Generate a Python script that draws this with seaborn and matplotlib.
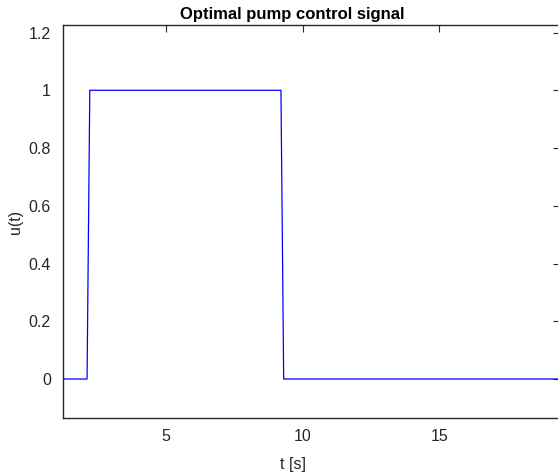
import matplotlib
matplotlib.use("Agg")
import matplotlib.pyplot as plt
import seaborn as sns
import pandas as pd

# Data
t_values = [1.23, 2.1, 2.2, 9.2, 9.3, 19.4]
u_values = [0.0, 0.0, 1.0, 1.0, 0.0, 0.0]
x_ticks = [5, 10, 15]
y_ticks = [0, 0.2, 0.4, 0.6, 0.8, 1.0, 1.2]
y_tick_labels = ["0", "0.2", "0.4", "0.6", "0.8", "1", "1.2"]

sns.set_theme(style="white")
plt.rcParams['font.family'] = ['Liberation Sans', 'DejaVu Sans']

df = pd.DataFrame({"t": t_values, "u": u_values})

fig = plt.figure(figsize=(5.58, 4.72), dpi=100)
ax = fig.add_axes([63.3 / 558, 1 - 418 / 472, (559.5 - 63.3) / 558, (418 - 25) / 472])

sns.lineplot(data=df, x="t", y="u", estimator=None, sort=False,
             color=(0, 0, 1), linewidth=0.9, ax=ax)

ax.set_xlim(1.23, 19.4)
ax.set_ylim(-0.135, 1.226)
ax.set_xticks(x_ticks)
ax.set_xticklabels([str(v) for v in x_ticks])
ax.set_yticks(y_ticks)
ax.set_yticklabels(y_tick_labels)

for s in ax.spines.values():
    s.set_color("#262626")
    s.set_linewidth(1.0)
    s.set_visible(True)

ax.tick_params(axis="both", which="both", direction="in", length=5, width=0.8,
               colors="#262626", labelsize=11.5, top=True, right=True,
               labeltop=False, labelright=False)
ax.tick_params(axis="y", pad=9)
ax.tick_params(axis="x", pad=8)
for lbl in ax.get_xticklabels() + ax.get_yticklabels():
    lbl.set_color("#262626")

ax.set_title("Optimal pump control signal", fontsize=12, fontweight="bold",
             color="black", x=0.462, pad=4)
ax.set_xlabel("t [s]", fontsize=11.5, color="#262626")
ax.xaxis.set_label_coords(0.462, -0.098)
ax.set_ylabel("u(t)", fontsize=11.5, color="#262626")
ax.yaxis.set_label_coords(-0.082, 0.5)
ax.grid(False)

fig.savefig("out.png", dpi=100)
